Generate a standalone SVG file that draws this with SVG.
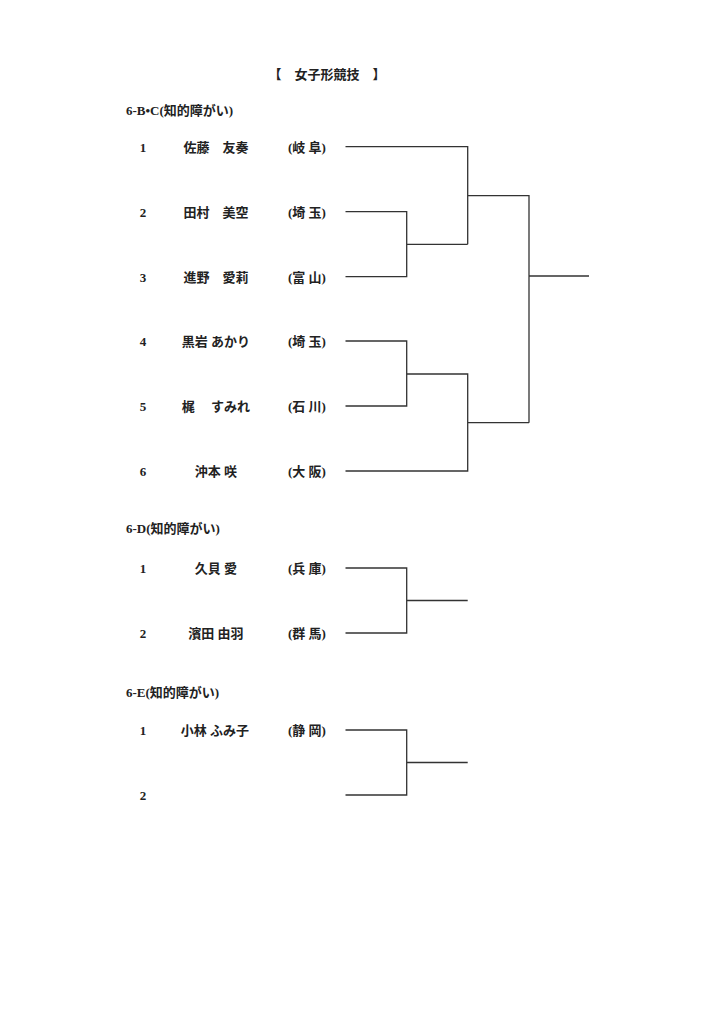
<svg xmlns="http://www.w3.org/2000/svg" width="724" height="1024" viewBox="0 0 724 1024">
<style>
text{font-family:"Liberation Serif","Noto Sans CJK JP",serif;font-weight:bold;font-size:13px;fill:#222}
.n{text-anchor:middle}
.nm{text-anchor:middle}
.p{text-anchor:start}
.ln{fill:none;stroke:#333;stroke-width:1.3}
</style>
<rect width="724" height="1024" fill="#fff"/>
<g id="title"><text x="327" y="79" class="n">【　女子形競技　】</text></g>
<g id="h-bc"><text x="126" y="115">6-B•C(知的障がい)</text></g>
<g id="bc1"><text x="143" y="151.5" class="n">1</text><text x="216" y="151.5" class="nm">佐藤　友奏</text><text x="288" y="151.5" class="p">(岐 阜)</text></g>
<g id="bc2"><text x="143" y="216.5" class="n">2</text><text x="216" y="216.5" class="nm">田村　美空</text><text x="288" y="216.5" class="p">(埼 玉)</text></g>
<g id="bc3"><text x="143" y="281.5" class="n">3</text><text x="216" y="281.5" class="nm">進野　愛莉</text><text x="288" y="281.5" class="p">(富 山)</text></g>
<g id="bc4"><text x="143" y="346" class="n">4</text><text x="216" y="346" class="nm">黒岩 あかり</text><text x="288" y="346" class="p">(埼 玉)</text></g>
<g id="bc5"><text x="143" y="411" class="n">5</text><text x="216" y="411" class="nm">梶　 すみれ</text><text x="288" y="411" class="p">(石 川)</text></g>
<g id="bc6"><text x="143" y="476" class="n">6</text><text x="216" y="476" class="nm">沖本 咲</text><text x="288" y="476" class="p">(大 阪)</text></g>
<g id="h-d"><text x="126" y="533">6-D(知的障がい)</text></g>
<g id="d1"><text x="143" y="573" class="n">1</text><text x="216" y="573" class="nm">久貝 愛</text><text x="288" y="573" class="p">(兵 庫)</text></g>
<g id="d2"><text x="143" y="638" class="n">2</text><text x="216" y="638" class="nm">濱田 由羽</text><text x="288" y="638" class="p">(群 馬)</text></g>
<g id="h-e"><text x="126" y="697">6-E(知的障がい)</text></g>
<g id="e1"><text x="143" y="735" class="n">1</text><text x="215" y="735" class="nm">小林 ふみ子</text><text x="288" y="735" class="p">(静 岡)</text></g>
<g id="e2"><text x="143" y="800" class="n">2</text></g>
<g id="connectors">
<path class="ln" d="M345.5 146.7H467.7V244.3M345.5 211.7H406.7V276.7H345.5M406.7 244.3H467.7M467.7 195.7H529V422.7M345.5 341H406.7V406H345.5M406.7 374H467.7V471H345.5M467.7 422.7H529M529 276H589"/>
<path class="ln" d="M345.5 568H406.7V633H345.5M406.7 600.5H467.7"/>
<path class="ln" d="M345.5 730H406.7V795H345.5M406.7 762.5H467.7"/>
</g>
</svg>
